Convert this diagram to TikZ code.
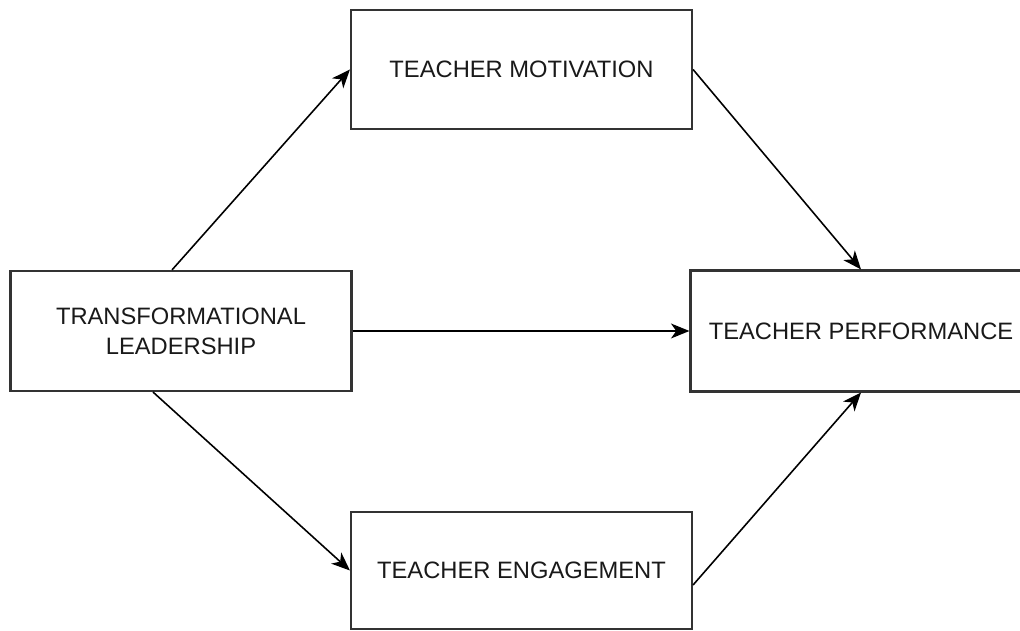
\documentclass[tikz,border=0pt]{standalone}
\usepackage{fontspec}
\setmainfont{Liberation Sans}
\usetikzlibrary{arrows.meta}

\begin{document}
\begin{tikzpicture}[line width=0.9pt, >={Stealth[length=10.5pt, width=8.5pt, inset=3pt]},
    box/.style={draw=black!80, line width=1.2pt, minimum width=6.82cm,
        minimum height=2.4cm, align=center, inner sep=0pt, text=black!90,
        font=\fontsize{13.5}{17}\selectfont}]

    \useasboundingbox (0, 0) rectangle (20.4, 12.62);

    % Nodes for the left and right boxes
    \node at (3.62, 6.0) (lead) [box] {TRANSFORMATIONAL\\LEADERSHIP};
    \node at (17.22, 6.0) (perf) [box, minimum height=2.42cm] {TEACHER PERFORMANCE};

    % Nodes for the mediators
    \node at (10.43, 11.23) (motiv) [box, minimum height=2.38cm] {TEACHER MOTIVATION};
    \node at (10.43, 1.21) (engage) [box, minimum height=2.34cm] {TEACHER ENGAGEMENT};

    % Arrows out of leadership
    \draw[->] ([xshift=-0.18cm]lead.north) -- (motiv.west);
    \draw[->] (lead.east) -- (perf.west);
    \draw[->] ([xshift=-0.56cm]lead.south) -- (engage.west);

    % Arrows into performance
    \draw[->] (motiv.east) -- (perf.north);
    \draw[->] ([yshift=-0.29cm]engage.east) -- (perf.south);

\end{tikzpicture}
\end{document}
